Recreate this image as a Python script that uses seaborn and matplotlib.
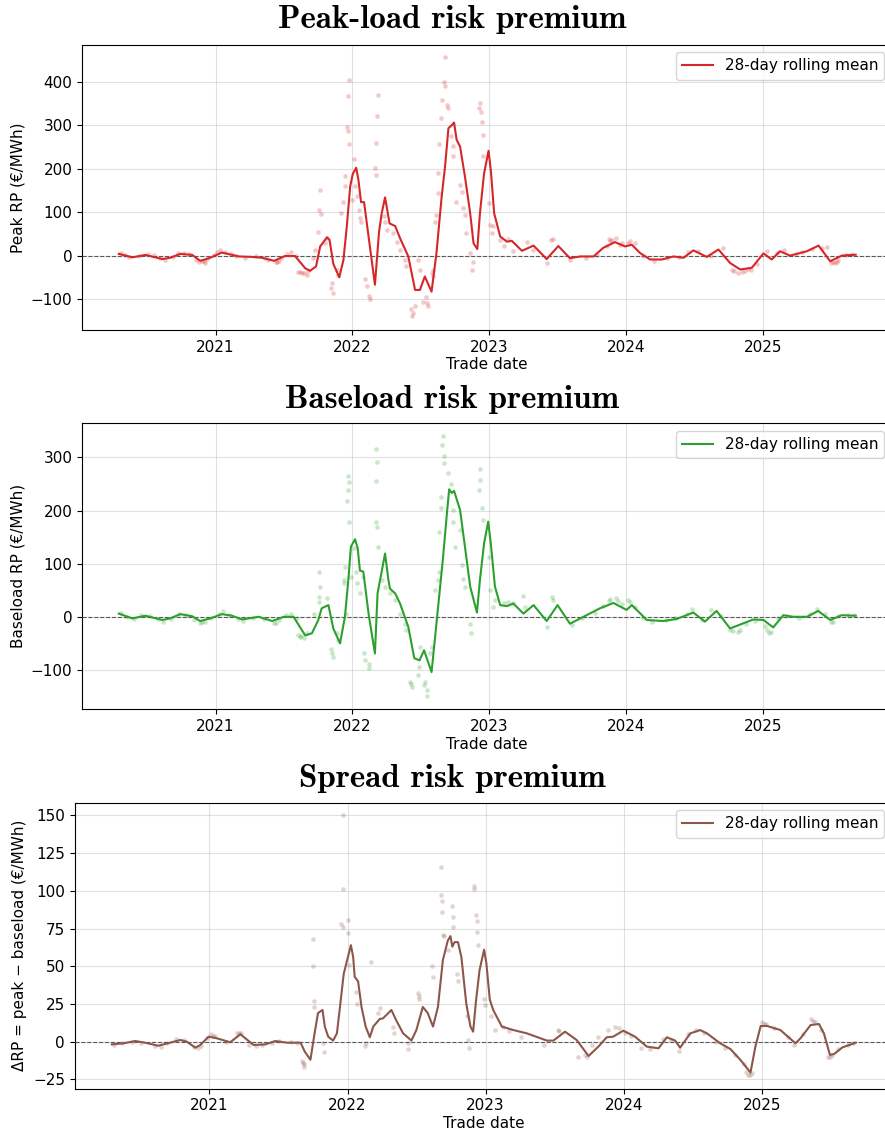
import matplotlib
matplotlib.use("Agg")
import matplotlib.pyplot as plt
import matplotlib.dates as mdates
import pandas as pd
import seaborn as sns

# ---------------------------------------------------------------- peak-load
PEAK_LINE_DATES = [
    "2020-04-18", "2020-05-24", "2020-06-28", "2020-08-12", "2020-09-02", "2020-09-29", "2020-10-31", "2020-11-21", "2020-12-15",
    "2021-01-18", "2021-03-05", "2021-04-08", "2021-05-05", "2021-06-06", "2021-07-05", "2021-08-01", "2021-08-28", "2021-09-10", "2021-09-26",
    "2021-10-07", "2021-10-25", "2021-11-01", "2021-11-11", "2021-11-27", "2021-12-08", "2021-12-17", "2021-12-26",
    "2022-01-02", "2022-01-11", "2022-01-17", "2022-01-24", "2022-02-01", "2022-02-13", "2022-03-02", "2022-03-13", "2022-03-20", "2022-03-29",
    "2022-04-10", "2022-04-25", "2022-05-08", "2022-05-30", "2022-06-17", "2022-06-30", "2022-07-13", "2022-07-31", "2022-08-13", "2022-08-27",
    "2022-09-05", "2022-09-14", "2022-09-23", "2022-09-29", "2022-10-06", "2022-10-15", "2022-10-28", "2022-11-11", "2022-11-20", "2022-11-30",
    "2022-12-07", "2022-12-18", "2022-12-30", "2023-01-05", "2023-01-14", "2023-01-30", "2023-02-17", "2023-03-02", "2023-03-29", "2023-04-29",
    "2023-06-03", "2023-07-04", "2023-08-04", "2023-08-31", "2023-10-06", "2023-11-01", "2023-12-02", "2023-12-29", "2024-01-16", "2024-02-07",
    "2024-03-05", "2024-04-05", "2024-05-06", "2024-06-02", "2024-06-28", "2024-08-03", "2024-09-03", "2024-10-04", "2024-10-31", "2024-12-01",
    "2025-01-01", "2025-01-23", "2025-02-14", "2025-03-13", "2025-04-27", "2025-05-28", "2025-06-28", "2025-07-29", "2025-09-04",
]
PEAK_LINE = [
    4, -4, 1.5, -8, -5, 4, 1.5, -12, -6,
    7, -2, -3, -5, -12, -1, -1, -29, -35, -25,
    21, 42, 36, -19, -50, -10, 67, 159,
    188, 202, 174, 123, 123, 44, -67, 55, 97, 134,
    74, 68, 40, -2, -79, -79, -48, -83, 5, 136,
    205, 293, 300, 306, 266, 251, 182, 97, 28, 15,
    97, 189, 241, 197, 97, 44, 32, 34, 11, 23,
    -8, 22, -6, -2, -2, 18, 31, 21, 25, 6,
    -9, -9, -2, -5, 12, -3, 14, -17, -32, -28,
    5, -9, 10, 0, 10, 23, -13, 0, 2,
]
PEAK_OBS_DATES = [
    "2020-04-25", "2020-05-05", "2020-05-15", "2020-06-10", "2020-07-05", "2020-07-20", "2020-08-05", "2020-08-20", "2020-09-10", "2020-09-22",
    "2020-10-10", "2020-10-22", "2020-11-10", "2020-11-18", "2020-12-02", "2020-12-10", "2020-12-28", "2021-01-05", "2021-01-12", "2021-01-26",
    "2021-02-10", "2021-02-25", "2021-03-20", "2021-04-20", "2021-05-12", "2021-05-20", "2021-06-15", "2021-06-25", "2021-07-10", "2021-07-20",
    "2021-08-03", "2021-08-10", "2021-08-19", "2021-09-01", "2021-09-18", "2021-09-23", "2021-10-02", "2021-10-05", "2021-10-07", "2021-10-08",
    "2021-10-20", "2021-10-25", "2021-11-04", "2021-11-07", "2021-11-09", "2021-11-20", "2021-11-24", "2021-12-02", "2021-12-08", "2021-12-11",
    "2021-12-12", "2021-12-18", "2021-12-19", "2021-12-21", "2021-12-22", "2021-12-24", "2021-12-30", "2022-01-04", "2022-01-12", "2022-01-18",
    "2022-01-21", "2022-01-25", "2022-02-04", "2022-02-10", "2022-02-15", "2022-02-17", "2022-03-03", "2022-03-04", "2022-03-05", "2022-03-08",
    "2022-03-09", "2022-03-25", "2022-03-29", "2022-04-03", "2022-04-20", "2022-04-29", "2022-05-08", "2022-05-21", "2022-05-25", "2022-06-06",
    "2022-06-10", "2022-06-12", "2022-06-16", "2022-06-26", "2022-06-29", "2022-07-07", "2022-07-16", "2022-07-18", "2022-07-22", "2022-07-31",
    "2022-08-04", "2022-08-05", "2022-08-08", "2022-08-13", "2022-08-17", "2022-08-18", "2022-08-21", "2022-08-25", "2022-08-27", "2022-09-02",
    "2022-09-04", "2022-09-05", "2022-09-09", "2022-09-14", "2022-09-20", "2022-09-26", "2022-09-27", "2022-10-03", "2022-10-15", "2022-10-19",
    "2022-10-24", "2022-10-27", "2022-10-31", "2022-11-11", "2022-11-15", "2022-11-18", "2022-12-05", "2022-12-07", "2022-12-09", "2022-12-12",
    "2022-12-14", "2022-12-16", "2022-12-30", "2023-01-03", "2023-01-08", "2023-01-12", "2023-01-30", "2023-02-08", "2023-02-21", "2023-03-06",
    "2023-04-11", "2023-04-27", "2023-06-03", "2023-06-14", "2023-06-21", "2023-08-04", "2023-09-15", "2023-10-15", "2023-11-10", "2023-11-25",
    "2023-12-15", "2024-01-05", "2024-01-25", "2024-02-15", "2024-03-15", "2024-04-20", "2024-05-20", "2024-06-15", "2024-07-10", "2024-08-15",
    "2024-09-15", "2024-10-15", "2024-11-05", "2024-11-20", "2024-12-15", "2025-01-10", "2025-02-05", "2025-02-25", "2025-03-30", "2025-04-15",
    "2025-05-10", "2025-06-05", "2025-06-20", "2025-07-05", "2025-07-15", "2025-08-10", "2025-08-25", "2021-08-14", "2021-08-24", "2021-09-05",
    "2023-11-15", "2023-11-20", "2023-12-05", "2023-12-22", "2024-01-10", "2024-10-10", "2024-10-25", "2024-11-12", "2024-11-28", "2025-07-01",
    "2025-07-10", "2025-07-20", "2021-06-10", "2021-06-20", "2020-12-05", "2020-11-25", "2022-01-08",
]
PEAK_OBS = [
    6, 1, -3, -2, 3, 2, -6, -10, -3, 5,
    6, 3, -10, -14, -12, -8, 2, 8, 14, 9,
    4, 0, -5, -2, -6, -10, -14, -6, 4, 8,
    -2, -37, -41, -44, -6, 13, 55, 105, 152, 96,
    28, 40, -75, -62, -87, -33, -44, 97, 123, 161,
    182, 295, 287, 367, 405, 256, 128, 222, 136, 105,
    86, 78, -54, -71, -94, -100, 202, 258, 185, 321,
    369, 90, 78, 59, 51, 32, 13, -10, -25, -123,
    -140, -133, -117, -10, -33, -106, -96, -110, -117, -41,
    -33, -48, 78, 93, 143, 189, 257, 316, 359, 400,
    389, 457, 346, 339, 274, 251, 228, 124, 162, 147,
    109, 93, 51, 5, -33, -14, 339, 352, 331, 308,
    277, 228, 120, 70, 51, 67, 36, 21, 38, 11,
    32, 13, -18, 36, 38, -10, -5, 2, 22, 35,
    25, 30, 28, 0, -12, -6, -4, 8, 10, 0,
    18, -35, -38, -30, -20, 10, 5, 12, 3, 8,
    15, 18, 20, -15, -14, 2, 4, -38, -40, -36,
    38, 33, 40, 30, 33, -33, -40, -36, -32, -17,
    -16, -10, -15, -12, -16, -12, 160,
]

# ---------------------------------------------------------------- baseload
BASE_LINE_DATES = [
    "2020-04-18", "2020-05-24", "2020-06-28", "2020-08-12", "2020-09-02", "2020-09-29", "2020-10-31", "2020-11-21", "2020-12-18",
    "2021-01-18", "2021-02-14", "2021-03-13", "2021-04-26", "2021-06-01", "2021-07-02", "2021-07-28", "2021-08-28", "2021-09-15", "2021-10-02",
    "2021-10-11", "2021-10-29", "2021-11-11", "2021-11-29", "2021-12-12", "2021-12-21", "2021-12-28", "2022-01-08", "2022-01-15", "2022-01-21",
    "2022-01-30", "2022-02-13", "2022-03-02", "2022-03-09", "2022-03-20", "2022-03-29", "2022-04-07", "2022-04-11", "2022-04-25", "2022-05-08",
    "2022-05-30", "2022-06-15", "2022-06-29", "2022-07-11", "2022-07-31", "2022-08-14", "2022-08-30", "2022-09-10", "2022-09-16", "2022-09-23",
    "2022-09-29", "2022-10-15", "2022-10-28", "2022-11-11", "2022-11-29", "2022-12-07", "2022-12-18", "2022-12-29", "2023-01-05", "2023-01-16",
    "2023-01-30", "2023-02-17", "2023-03-06", "2023-04-02", "2023-04-29", "2023-06-03", "2023-07-02", "2023-08-04", "2023-09-09", "2023-10-23",
    "2023-11-28", "2024-01-02", "2024-01-16", "2024-02-25", "2024-04-09", "2024-05-15", "2024-06-28", "2024-07-29", "2024-08-29", "2024-10-04",
    "2024-12-05", "2025-01-01", "2025-01-27", "2025-02-23", "2025-03-22", "2025-04-27", "2025-05-27", "2025-06-28", "2025-07-29", "2025-09-04",
]
BASE_LINE = [
    6, -3, 2, -6, -3, 5, 1, -8, -3,
    5, 2, -5, 0, -8, 0, 0, -35, -31, -6,
    16, 22, -22, -50, 0, 69, 132, 146, 129, 87,
    85, 6, -69, 44, 85, 119, 69, 53, 44, 25,
    -19, -78, -82, -63, -104, -6, 107, 195, 240, 233,
    237, 201, 132, 57, 8, 69, 138, 179, 138, 57,
    22, 20, 25, 6, 22, -8, 22, -13, 0, 16,
    26, 13, 22, -6, -8, -4, 8, -9, 11, -22,
    -5, -6, -20, 3, 0, 0, 11, -6, 3, 2,
]
BASE_OBS_DATES = [
    "2020-04-25", "2020-05-10", "2020-05-28", "2020-06-15", "2020-07-10", "2020-08-01", "2020-08-15", "2020-09-05", "2020-09-25", "2020-10-15",
    "2020-11-05", "2020-11-20", "2020-12-05", "2020-12-20", "2021-01-10", "2021-01-20", "2021-02-05", "2021-03-01", "2021-03-15", "2021-04-10",
    "2021-05-10", "2021-06-05", "2021-06-20", "2021-07-08", "2021-07-20", "2021-08-05", "2021-08-10", "2021-08-14", "2021-09-01", "2021-09-20",
    "2021-10-03", "2021-10-04", "2021-10-05", "2021-10-06", "2021-10-25", "2021-11-05", "2021-11-07", "2021-11-09", "2021-11-22", "2021-11-24",
    "2021-12-09", "2021-12-10", "2021-12-11", "2021-12-14", "2021-12-17", "2021-12-20", "2021-12-21", "2021-12-22", "2021-12-23", "2021-12-28",
    "2022-01-10", "2022-01-13", "2022-01-21", "2022-01-28", "2022-02-01", "2022-02-04", "2022-02-14", "2022-02-15", "2022-03-04", "2022-03-05",
    "2022-03-06", "2022-03-07", "2022-03-08", "2022-03-09", "2022-03-20", "2022-03-29", "2022-04-11", "2022-04-25", "2022-05-08", "2022-05-21",
    "2022-05-25", "2022-06-04", "2022-06-06", "2022-06-09", "2022-06-24", "2022-06-27", "2022-06-29", "2022-07-11", "2022-07-13", "2022-07-18",
    "2022-07-19", "2022-07-28", "2022-08-02", "2022-08-08", "2022-08-18", "2022-08-20", "2022-08-21", "2022-08-24", "2022-08-26", "2022-08-27",
    "2022-08-31", "2022-09-01", "2022-09-03", "2022-09-14", "2022-09-26", "2022-09-27", "2022-10-01", "2022-10-15", "2022-10-19", "2022-10-24",
    "2022-10-27", "2022-11-11", "2022-11-14", "2022-12-05", "2022-12-07", "2022-12-08", "2022-12-12", "2022-12-14", "2022-12-30", "2023-01-02",
    "2023-01-12", "2023-01-16", "2023-02-08", "2023-03-04", "2023-04-02", "2023-04-06", "2023-06-03", "2023-06-16", "2023-06-20", "2023-08-10",
    "2023-09-05", "2023-10-10", "2023-10-30", "2023-11-15", "2023-12-05", "2023-12-20", "2024-01-10", "2024-01-25", "2024-02-15", "2024-03-10",
    "2024-04-15", "2024-05-10", "2024-06-10", "2024-06-25", "2024-07-20", "2024-08-15", "2024-09-10", "2024-10-05", "2024-10-25", "2024-11-15",
    "2024-12-10", "2025-01-05", "2025-01-20", "2025-02-10", "2025-03-05", "2025-04-05", "2025-05-05", "2025-05-25", "2025-06-15", "2025-07-05",
    "2025-07-20", "2025-08-15", "2025-08-30", "2021-08-18", "2021-08-24", "2023-11-20", "2023-12-10", "2024-01-05", "2024-10-12", "2024-10-30",
    "2025-01-10", "2025-01-15", "2025-06-30", "2021-06-10", "2020-11-25", "2022-01-05", "2022-09-20", "2023-02-20",
]
BASE_OBS = [
    7, 0, -5, 3, 1, -5, -10, -4, 6, 4,
    -6, -12, -9, -2, 6, 10, 4, -4, -8, -2,
    -4, -12, -6, 4, 6, -3, -35, -38, -31, 6,
    28, 38, 85, 56, 35, -60, -69, -75, -31, -44,
    63, 69, 94, 6, 217, 238, 265, 254, 179, 75,
    85, 63, 44, 75, -69, -82, -88, -97, 255, 179,
    315, 292, 169, 132, 69, 56, 44, 31, 6, -13,
    -25, -122, -126, -132, -110, -94, -56, -129, -122, -149,
    -137, -69, -56, 50, 69, 85, 160, 204, 226, 323,
    340, 303, 289, 270, 179, 201, 132, 163, 97, 72,
    56, -13, -31, 239, 279, 257, 204, 182, 113, 50,
    19, 31, 26, 26, 39, 19, -19, 38, 31, -15,
    -3, 8, 20, 30, 35, 25, 28, 18, -2, -10,
    -6, -2, 6, 14, -6, 12, 2, -25, -28, -14,
    -8, -18, -28, -2, 2, -2, 5, 14, 6, -10,
    2, 4, 3, -36, -40, 33, 30, 32, -27, -24,
    -25, -30, -9, -12, -10, 130, 250, 28,
]

# ---------------------------------------------------------------- spread
SPREAD_LINE_DATES = [
    "2020-04-18", "2020-05-19", "2020-06-19", "2020-07-15", "2020-08-19", "2020-09-19", "2020-10-16", "2020-11-02", "2020-11-25", "2020-12-08",
    "2020-12-30", "2021-01-21", "2021-02-25", "2021-03-24", "2021-04-06", "2021-04-28", "2021-05-29", "2021-06-24", "2021-07-25", "2021-08-30",
    "2021-09-10", "2021-09-25", "2021-10-06", "2021-10-15", "2021-10-27", "2021-11-02", "2021-11-11", "2021-11-24", "2021-12-04", "2021-12-13",
    "2021-12-22", "2022-01-02", "2022-01-10", "2022-01-16", "2022-01-20", "2022-01-29", "2022-02-07", "2022-02-18", "2022-03-01", "2022-03-10",
    "2022-03-27", "2022-04-05", "2022-04-27", "2022-05-10", "2022-05-28", "2022-06-19", "2022-07-02", "2022-07-19", "2022-08-01", "2022-08-15",
    "2022-08-28", "2022-09-10", "2022-09-23", "2022-09-30", "2022-10-05", "2022-10-11", "2022-10-20", "2022-10-29", "2022-11-11", "2022-11-22",
    "2022-11-29", "2022-12-07", "2022-12-16", "2022-12-28", "2023-01-03", "2023-01-12", "2023-01-21", "2023-02-13", "2023-03-15", "2023-04-20",
    "2023-06-12", "2023-06-29", "2023-07-30", "2023-08-30", "2023-09-30", "2023-10-26", "2023-11-17", "2023-12-04", "2023-12-31", "2024-01-31",
    "2024-03-02", "2024-04-02", "2024-04-24", "2024-05-16", "2024-05-29", "2024-06-25", "2024-07-21", "2024-08-08", "2024-09-12", "2024-10-09",
    "2024-11-04", "2024-12-01", "2024-12-14", "2024-12-28", "2025-01-14", "2025-02-18", "2025-03-30", "2025-04-12", "2025-05-09", "2025-05-31",
    "2025-06-13", "2025-06-29", "2025-07-10", "2025-08-01", "2025-09-05",
]
SPREAD_LINE = [
    -1.8, -1.1, 0.4, -0.7, -2.7, -0.7, 1.1, 0, -4, -2.2,
    3.3, 2.2, -0.4, 4.9, 2.2, -2.2, -1.8, 0.4, -0.7, -0.7,
    -6.6, -12, 5.5, 19, 21, 10, 3.3, 0.7, 5.5, 25,
    45, 56, 64, 56, 43, 40, 23, 10, 2.9, 10,
    15, 15.5, 21, 14, 5.5, 0.7, 7.7, 23, 19, 10,
    23, 54, 67, 70, 63, 66, 66, 56, 25, 10,
    6.6, 28, 47.5, 61, 52, 28, 21, 10, 7.7, 5.5,
    0.7, 0.7, 6.6, 1, -9.5, -3.3, 2.9, 3.3, 7.3, 3.3,
    -3.3, -4.4, 2.9, 0.7, -4, 5.5, 7.7, 5.5, -1.1, -4.9,
    -12, -20.5, -3.3, 10.4, 10.4, 7.7, -1.1, 2.2, 11, 11.7,
    5.5, -8.8, -8.2, -3.8, -0.7,
]
SPREAD_OBS_DATES = [
    "2020-04-25", "2020-05-15", "2020-06-10", "2020-07-05", "2020-08-10", "2020-08-25", "2020-09-10", "2020-10-05", "2020-10-25", "2020-11-20",
    "2020-12-01", "2020-12-10", "2020-12-25", "2021-01-05", "2021-01-10", "2021-02-15", "2021-03-15", "2021-03-25", "2021-04-15", "2021-05-05",
    "2021-05-20", "2021-06-15", "2021-07-05", "2021-08-05", "2021-08-20", "2021-09-03", "2021-09-05", "2021-09-07", "2021-10-02", "2021-10-03",
    "2021-10-04", "2021-10-05", "2021-10-28", "2021-10-30", "2021-12-16", "2021-12-19", "2021-12-20", "2021-12-21", "2022-01-02", "2022-01-03",
    "2022-01-06", "2022-01-23", "2022-01-26", "2022-02-16", "2022-02-18", "2022-03-05", "2022-03-22", "2022-03-29", "2022-05-01", "2022-05-05",
    "2022-06-09", "2022-06-11", "2022-07-06", "2022-07-08", "2022-07-10", "2022-08-11", "2022-08-15", "2022-09-05", "2022-09-06", "2022-09-07",
    "2022-09-08", "2022-09-10", "2022-09-12", "2022-09-23", "2022-10-05", "2022-10-06", "2022-10-07", "2022-10-17", "2022-10-20", "2022-11-14",
    "2022-11-15", "2022-11-17", "2022-12-01", "2022-12-02", "2022-12-07", "2022-12-08", "2022-12-10", "2022-12-13", "2022-12-28", "2022-12-30",
    "2023-01-14", "2023-01-25", "2023-02-17", "2023-03-05", "2023-04-05", "2023-06-05", "2023-07-10", "2023-07-15", "2023-09-02", "2023-09-20",
    "2023-10-10", "2023-10-25", "2023-11-20", "2023-12-10", "2024-01-05", "2024-01-20", "2024-02-15", "2024-03-10", "2024-04-15", "2024-05-05",
    "2024-05-25", "2024-06-20", "2024-07-10", "2024-08-01", "2024-09-01", "2024-09-25", "2024-10-20", "2024-11-15", "2024-11-25", "2024-12-05",
    "2025-01-01", "2025-01-10", "2025-02-01", "2025-03-10", "2025-03-25", "2025-04-20", "2025-05-10", "2025-05-20", "2025-06-05", "2025-06-25",
    "2025-07-05", "2025-07-20", "2025-08-15", "2025-08-30", "2021-09-09", "2024-11-20", "2024-11-30", "2025-01-05", "2025-05-15", "2025-06-28",
    "2023-09-25", "2021-03-20", "2021-01-15", "2023-12-20",
]
SPREAD_OBS = [
    -2, -1, 0, -1, -3, -3.5, -1, 1.5, 1, -3.5,
    -4, -3, 2.5, 5, 3.5, 0, 5.5, 6, -2, -3,
    -2.5, -1, 0.5, -0.5, -1, -13, -14, -17, 68, 50,
    27, 23, -1, -7, 78, 76, 101, 150, 81, 72,
    51, 33, 25, -3, -1, 53, 19, 22, 10, 5.5,
    -1, -5, 32, 28, 30, 50, 43, 116, 97, 93,
    86, 71, 70, 61, 90, 83, 76, 45, 40, 17,
    1, -4, 103, 101, 84, 80, 73, 64, 28, 24,
    17, 8, 10, 7, 3, -2, 8, 7, -10, -9,
    -2, 3, 8, 10, 6, 4, -4, -5, 2, 1,
    -6, 5, 8, 6, 0, -4, -9, -15, -22, -21,
    13, 12, 9, 3, -2, 5, 15, 13, 8, -10,
    -9, -5, -2, -1, -15, -20, -22, 12, 14, -10,
    -10, 6, 4, 9,
]

X_LIMITS = ("2020-01-11", "2025-12-10")
LEGEND_LABEL = "28-day rolling mean"

panels = [
    dict(title="Peak-load risk premium", ylabel="Peak RP (€/MWh)",
         line_dates=PEAK_LINE_DATES, line=PEAK_LINE,
         obs_dates=PEAK_OBS_DATES, obs=PEAK_OBS, color="#d62728",
         rect=[0.0927, 0.7093, 0.9153, 0.2513], ylim=(-171, 485),
         yticks=[-100, 0, 100, 200, 300, 400], title_y=0.9753),
    dict(title="Baseload risk premium", ylabel="Baseload RP (€/MWh)",
         line_dates=BASE_LINE_DATES, line=BASE_LINE,
         obs_dates=BASE_OBS_DATES, obs=BASE_OBS, color="#2ca02c",
         rect=[0.0927, 0.3751, 0.9153, 0.2519], ylim=(-174, 364),
         yticks=[-100, 0, 100, 200, 300], title_y=0.6405),
    dict(title="Spread risk premium", ylabel="ΔRP = peak \u2212 baseload (€/MWh)",
         line_dates=SPREAD_LINE_DATES, line=SPREAD_LINE,
         obs_dates=SPREAD_OBS_DATES, obs=SPREAD_OBS, color="#8c564b",
         rect=[0.0844, 0.0408, 0.9235, 0.2520], ylim=(-31.2, 158.5),
         yticks=[-25, 0, 25, 50, 75, 100, 125, 150], title_y=0.3066),
]

plt.rcParams["font.family"] = ["DejaVu Sans"]
fig = plt.figure(figsize=(8.85, 11.35), dpi=100)

for p in panels:
    ax = fig.add_axes(p["rect"])
    ax.set_axisbelow(True)
    ax.grid(True, color="#cccccc", alpha=0.6, linewidth=0.8)

    sns.scatterplot(x=pd.to_datetime(p["obs_dates"]), y=p["obs"], ax=ax,
                    color=p["color"], s=11, alpha=0.25, linewidth=0, zorder=2)
    ax.axhline(0, color="0.35", linewidth=0.8, linestyle="--", zorder=3)
    sns.lineplot(x=pd.to_datetime(p["line_dates"]), y=p["line"], ax=ax,
                 color=p["color"], linewidth=1.5, label=LEGEND_LABEL, zorder=4)

    ax.set_xlim(pd.to_datetime(X_LIMITS[0]), pd.to_datetime(X_LIMITS[1]))
    ax.set_ylim(*p["ylim"])
    ax.set_yticks(p["yticks"])
    ax.xaxis.set_major_locator(mdates.YearLocator())
    ax.xaxis.set_major_formatter(mdates.DateFormatter("%Y"))
    ax.tick_params(labelsize=11)
    ax.set_xlabel("Trade date", fontsize=11, labelpad=2)
    ax.set_ylabel(p["ylabel"], fontsize=11)
    ax.legend(loc="upper right", fontsize=11)

    fig.text(0.511, p["title_y"], p["title"], ha="center", va="baseline",
             fontsize=23.8, family=["cmb10", "DejaVu Serif"])

fig.savefig("out.png", dpi=100)
